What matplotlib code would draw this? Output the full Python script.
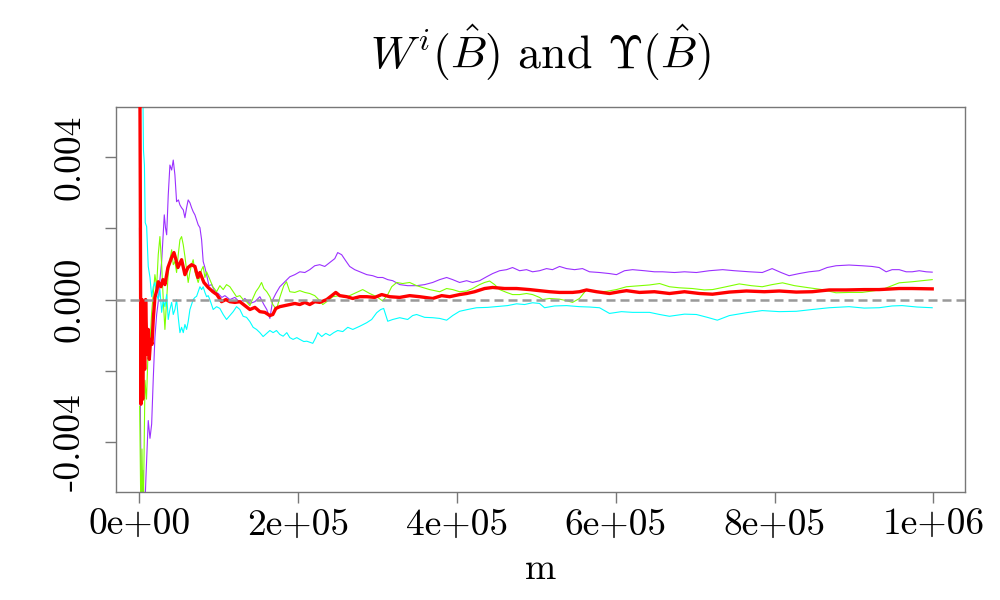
import matplotlib
matplotlib.use("Agg")
import matplotlib.pyplot as plt

plt.rcParams['font.family'] = ['cmr10', 'DejaVu Serif']
plt.rcParams['mathtext.fontset'] = 'cm'
plt.rcParams['axes.unicode_minus'] = False
plt.rcParams['axes.formatter.use_mathtext'] = True

title = r"$W^i(\hat{B})$ and $\Upsilon(\hat{B})$"
xlabel = "m"
xticks = [0, 200000, 400000, 600000, 800000, 1000000]
xticklabels = ["0e+00", "2e+05", "4e+05", "6e+05", "8e+05", "1e+06"]
yticks = [-0.004, -0.002, 0.0, 0.002, 0.004]
yticklabels = ["-0.004", "", "0.000", "", "0.004"]

red_m = [500,1300,2100,3400,4300,5500,6800,8000,9700,11300,
         12600,14300,16000,17600,19700,22300,23900,27300,29800,32300,
         36100,40700,43700,46200,48700,53300,57500,61300,65900,70100,
         73800,76400,81400,86800,92700,97700,103600,109100,114100,120400,
         126700,133000,139300,145600,151900,158200,164500,168200,172000,177000,
         183300,189600,195900,202200,208500,214700,221000,227300,236100,242400,
         247500,252500,261300,268900,277700,286500,296500,305300,315400,328000,
         340500,353100,369500,380800,390900,403400,412300,422300,434900,445000,
         460000,475200,491500,504100,516700,529300,545600,554400,563300,575800,
         592200,604800,613600,630000,648800,667700,686600,705500,721900,743200,
         764600,787200,806000,827400,847500,868900,890300,912900,931800,957000,
         973400,998600]
red_y = [0.008,0.0030,-0.00294,0.0,-0.0028,-0.00028,-0.00196,0.0,-0.00154,-0.00084,
         -0.00168,-0.00112,-0.00126,-0.00056,0.00006,0.00028,0.0005,0.00036,0.00056,0.00042,
         0.0009,0.00118,0.00132,0.00112,0.0009,0.00112,0.0007,0.0009,0.00098,0.00093,
         0.00062,0.00076,0.00048,0.00034,0.00022,0.00014,-0.00006,0.0,-0.00006,-0.00008,
         -0.00006,-0.00017,-0.00028,-0.00022,-0.00034,-0.00036,-0.00045,-0.00042,-0.00025,-0.0002,
         -0.00017,-0.00014,-0.00011,-0.00014,-0.00008,-0.00014,-0.00006,-0.00008,0.0,0.00011,
         0.0002,0.00011,0.00008,0.00003,0.00008,0.00008,0.00006,0.00014,0.00008,0.00006,
         0.00011,0.00008,0.00003,0.00011,0.00008,0.00014,0.00017,0.00022,0.00031,0.00034,
         0.00031,0.00031,0.00028,0.00025,0.00022,0.0002,0.0002,0.00022,0.00027,0.00022,
         0.00017,0.00022,0.00025,0.0002,0.00022,0.00017,0.00022,0.00017,0.00015,0.00021,
         0.00024,0.00022,0.00024,0.00021,0.00022,0.00027,0.00027,0.00028,0.00028,0.00031,
         0.00031,0.0003]

purple_m = [300,1500,2800,4700,6500,8400,11300,13500,15600,17600,
            19700,21900,23900,26000,28200,29800,31500,33000,34500,36500,
            38600,40800,42800,44900,47000,49300,51200,53300,55400,57500,
            59600,61600,63800,65900,67900,70100,72200,74200,76400,78500,
            80500,82700,84800,87700,91100,95200,99400,104000,107800,114100,
            120400,126700,133000,139300,145600,151900,156900,160600,164500,168200,
            172000,177000,183300,189600,195900,202200,208500,214700,221000,227300,
            233600,239900,246200,249900,254900,260000,265000,271300,277700,286500,
            294000,300300,306600,312900,319200,328000,338000,349300,359400,369500,
            378300,387100,394700,403400,412300,419800,428600,437400,445000,453800,
            462600,470100,479000,487700,495300,504100,512900,520400,529300,538100,
            548200,558200,567000,579600,592200,601000,611100,621200,636300,648800,
            658900,674000,686600,701600,717900,734700,749700,768600,784600,797000,
            808200,818400,831000,843600,856200,866300,877500,893900,910300,922900,
            931800,940600,948100,957000,965800,973400,982300,991000,998600]
purple_y = [0.0020,-0.00336,-0.0062,-0.0048,-0.0062,-0.005,-0.0034,-0.0039,-0.0035,-0.00224,
            -0.00107,-0.00042,-0.00006,0.00056,0.00107,0.00168,0.00238,0.00202,0.00182,0.00294,
            0.00378,0.00364,0.00392,0.0035,0.00275,0.0028,0.00266,0.00258,0.00252,0.0023,
            0.00258,0.0028,0.00272,0.00258,0.00247,0.00238,0.00224,0.0021,0.00202,0.00168,
            0.00107,0.0009,0.0007,0.00039,0.00042,0.00022,0.00017,0.00006,0.00011,0.0,
            0.00006,-0.00008,0.00003,-0.00011,-0.00006,0.00008,-0.00014,-0.00028,-0.00053,0.0,
            0.00017,0.00036,0.0005,0.00064,0.0007,0.00078,0.00076,0.00084,0.00095,0.00098,
            0.00093,0.00104,0.00115,0.00132,0.00126,0.00109,0.00093,0.00084,0.00078,0.0007,
            0.00067,0.00062,0.00062,0.00056,0.00053,0.00042,0.00039,0.00039,0.00042,0.00048,
            0.00056,0.00062,0.00056,0.00048,0.00053,0.00048,0.00053,0.00064,0.00073,0.00081,
            0.00084,0.0009,0.00081,0.00084,0.00078,0.00081,0.00087,0.00084,0.00093,0.00087,
            0.00084,0.00087,0.00078,0.00076,0.00073,0.0007,0.00081,0.00084,0.00081,0.00078,
            0.00078,0.00076,0.00078,0.00076,0.00081,0.00084,0.00081,0.00078,0.00076,0.00087,
            0.00076,0.00067,0.00073,0.00078,0.00081,0.0009,0.00095,0.00097,0.00095,0.00093,
            0.0009,0.00078,0.00084,0.00084,0.00078,0.00078,0.00081,0.00078,0.00077]

green_m = [500,2100,3400,5000,7200,9100,11300,13500,15600,17600,
           19700,21900,23900,26000,28200,30200,32300,34500,36500,38600,
           40800,42800,44900,47000,49100,51200,53300,55400,57500,59600,
           61600,63800,65900,67900,70100,72200,74200,76400,78500,80500,
           82700,84800,88900,92700,97400,101500,105700,109900,114100,118300,
           122500,126700,130800,135100,139300,143000,146800,150600,154000,156900,
           160600,164500,168200,172800,177000,182000,185400,189600,195900,202200,
           208500,214700,221000,227300,231100,236100,243700,252500,258800,265000,
           273800,281400,290200,299000,306600,312900,317900,324200,331700,340500,
           349300,356900,365700,378300,387100,394700,403400,412300,419800,428600,
           434900,441200,447500,453800,462600,470100,479000,487700,495300,504100,
           507900,516700,529300,538100,545600,554400,563300,575800,588300,600900,
           613600,630000,642600,655300,667700,680300,696500,711600,721900,737000,
           755600,770700,784600,797000,810100,825200,843600,860000,877500,893900,
           910300,922900,935500,948100,957000,973400,998600]
green_y = [-0.0030,-0.0062,-0.0042,-0.0062,-0.00227,-0.0028,-0.00132,-0.00126,-0.00036,0.00014,
           0.0007,0.00036,0.00126,0.00177,0.00098,0.0,-0.00084,0.0,0.00076,0.00112,
           0.0014,0.00098,0.00107,0.00076,0.00126,0.00168,0.00177,0.00154,0.00121,0.00084,
           0.00048,0.00078,0.00098,0.00112,0.00078,0.00062,0.00048,0.00067,0.00084,0.00093,
           0.00062,0.00078,0.00056,0.00036,0.00022,0.00039,0.00028,0.00042,0.00036,0.00022,
           0.00008,0.00011,0.0,-0.00006,-0.00017,0.00003,0.00022,0.00034,0.00048,0.00031,
           0.00022,0.00008,-0.00014,-0.00028,0.00006,0.00039,0.0005,0.00022,0.0002,0.00025,
           0.0002,0.00017,0.00011,-0.00003,-0.00014,-0.00006,0.00008,0.00011,0.00006,0.00011,
           0.0002,0.00028,0.00017,0.00008,-0.00004,0.00014,0.00036,0.00048,0.00045,0.00048,
           0.00039,0.00034,0.00028,0.00022,0.00031,0.00028,0.00022,0.00024,0.00031,0.00042,
           0.00048,0.00052,0.00042,0.00028,0.0002,0.00014,0.00014,0.00017,0.00014,0.00006,
           0.0,0.00003,0.00001,-0.00003,-0.00008,0.00003,0.00028,0.00022,0.00023,0.00028,
           0.00036,0.00039,0.00041,0.00045,0.00036,0.00033,0.00031,0.00027,0.00028,0.00035,
           0.00044,0.00039,0.00036,0.00042,0.00047,0.00039,0.00033,0.00028,0.00019,0.0002,
           0.0002,0.00024,0.00028,0.00039,0.00047,0.0005,0.00056]

cyan_m = [1500,4000,5300,6500,7500,9300,11300,13500,15600,17600,
          19700,21900,23900,26000,28200,30200,32300,34500,36500,38600,
          40800,42800,44900,47000,49100,51200,53300,55400,57500,59600,
          61600,63800,65900,67900,70100,72200,74200,76400,78500,80500,
          82700,84800,86800,88900,93100,97400,101500,105700,109900,114100,
          118300,122500,126700,130800,135100,139300,143400,147700,151900,156000,
          160600,164500,168600,172800,177000,181200,185800,189600,193700,198400,
          202200,207200,211000,214700,218500,222300,224800,229800,234900,239900,
          244900,249900,256300,262600,268900,277700,286500,292700,299000,304100,
          307800,312900,319200,328000,338000,344300,349300,359400,369500,378300,
          387100,394700,403400,413500,424800,438700,453800,463800,475200,485200,
          495300,504100,510400,523000,538100,554400,567000,579600,592200,607200,
          621200,642600,655300,667700,686600,701600,715400,728000,743200,764600,
          784600,806000,827400,847500,868900,893900,912900,931800,948100,960700,
          979600,998600]
cyan_y = [0.008,0.0071,0.0042,0.00378,0.00216,0.00205,0.00093,0.00062,0.00008,0.00036,
          0.00048,0.00014,0.0,0.00028,-0.00036,0.0,-0.0002,0.00014,-0.00056,-0.00028,
          -0.00008,-0.00042,-0.00028,0.0,-0.0005,-0.00093,-0.00078,-0.00093,-0.0007,-0.00084,
          -0.00062,-0.00028,-0.00014,0.0,0.00006,0.00009,0.00022,0.00036,0.00028,0.00036,
          0.0002,0.00008,0.00011,0.0,-0.00028,-0.0002,-0.00025,-0.00042,-0.00056,-0.00045,
          -0.00034,-0.0002,-0.00028,-0.00047,-0.0005,-0.00062,-0.00078,-0.00084,-0.00093,-0.00104,
          -0.00095,-0.00087,-0.00093,-0.00087,-0.00098,-0.00103,-0.00093,-0.00107,-0.00112,-0.00107,
          -0.00112,-0.00118,-0.00117,-0.0012,-0.00123,-0.00107,-0.00093,-0.00104,-0.00095,-0.00101,
          -0.00093,-0.00087,-0.0009,-0.00078,-0.00084,-0.00075,-0.00065,-0.00056,-0.00037,-0.00028,
          -0.00025,-0.00061,-0.00056,-0.00051,-0.00056,-0.00045,-0.00042,-0.0005,-0.00051,-0.00053,
          -0.00058,-0.00045,-0.00033,-0.00028,-0.00023,-0.00022,-0.00019,-0.00017,-0.00012,-0.00014,
          -0.00009,-0.00011,-0.00023,-0.00018,-0.00017,-0.0002,-0.00021,-0.00023,-0.00039,-0.00034,
          -0.00036,-0.00036,-0.00042,-0.00047,-0.00041,-0.00042,-0.0005,-0.00058,-0.00045,-0.00037,
          -0.00031,-0.00034,-0.00033,-0.00028,-0.00023,-0.0002,-0.00024,-0.00023,-0.00018,-0.00017,
          -0.00021,-0.00023]

fig = plt.figure(figsize=(10, 6), dpi=100)
ax = fig.add_axes([0.116, 0.1805, 0.849, 0.6405])

ax.plot(purple_m, purple_y, color='#9B30FF', lw=0.8, zorder=2)
ax.plot(green_m, green_y, color='#7FFF00', lw=0.8, zorder=2)
ax.plot(cyan_m, cyan_y, color='#00FFFF', lw=0.8, zorder=2)
ax.plot(red_m, red_y, color='#FF0000', lw=2.4, zorder=3)
ax.axhline(0.0, color='#999999', lw=1.8, dashes=(3.6, 2.0), zorder=4)

ax.set_xlim(-29300, 1039900)
ax.set_ylim(-0.0054, 0.0054)

for s in ax.spines.values():
    s.set_color('#777777')
    s.set_linewidth(1.0)

ax.set_xticks(xticks)
ax.set_xticklabels(xticklabels, fontsize=27)
ax.set_yticks(yticks)
ax.set_yticklabels(yticklabels, fontsize=27, rotation=90, va='center')
ax.tick_params(axis='both', direction='out', length=8, width=1.0, color='#777777')
ax.tick_params(axis='x', pad=4)
ax.tick_params(axis='y', pad=13)

ax.set_title(title, fontsize=33, pad=28)
ax.set_xlabel(xlabel, fontsize=27, labelpad=8)

fig.savefig('out.png', dpi=100)
